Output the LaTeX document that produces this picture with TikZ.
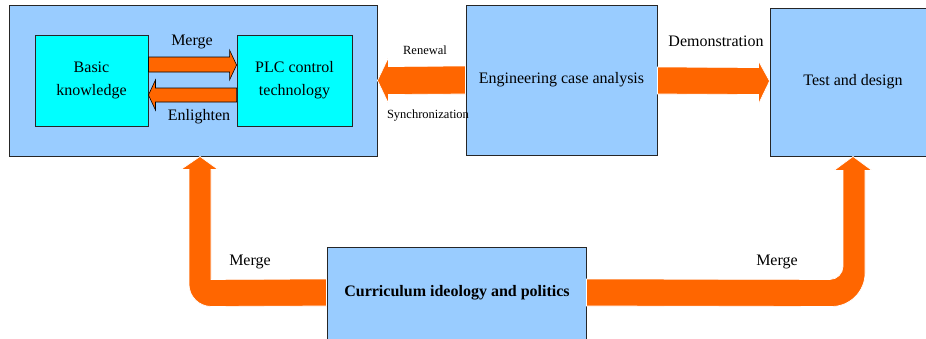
\documentclass[tikz,border=0pt]{standalone}
\usepackage{fontspec}
\setmainfont{Liberation Serif}
\usetikzlibrary{calc}
\definecolor{boxblue}{HTML}{99CCFF}
\definecolor{boxcyan}{HTML}{00FFFF}
\definecolor{arrorange}{HTML}{FF6600}
\tikzset{
  bluebox/.style={draw=black!85, line width=0.9pt, fill=boxblue, inner sep=0pt, align=center, font=\fontsize{16}{23}\selectfont},
  cyanbox/.style={draw=black!85, line width=0.9pt, fill=boxcyan, inner sep=0pt, align=center, font=\fontsize{16}{23}\selectfont},
  lbl/.style={inner sep=0pt, font=\fontsize{16}{19}\selectfont},
  smalllbl/.style={inner sep=0pt, font=\fontsize{12.5}{15}\selectfont},
  innerarrow/.style={fill=arrorange, draw=black, line width=0.6pt, line join=miter},
  outerarrow/.style={fill=arrorange, draw=white, line width=0.7pt, line join=miter},
}
\begin{document}
\begin{tikzpicture}[x=1pt, y=-1pt]
\clip (0,0) rectangle (926,338);
\fill[white] (0,0) rectangle (926,338);

% boxes
\node[bluebox, minimum width=368pt, minimum height=151pt] (outer) at (193,80.5) {};
\node[cyanbox, minimum width=113pt, minimum height=91pt] (basic) at (91.5,80.5) {Basic\\knowledge};
\node[cyanbox, minimum width=115pt, minimum height=91pt] (plc) at (294.5,80.5) {PLC control\\technology};
\node[bluebox, minimum width=191pt, minimum height=150pt] (eng) at (561.5,80) {Engineering case analysis};
\node[bluebox, minimum width=166pt, minimum height=148pt] (test) at (853,82) {Test and design};
\node[bluebox, minimum width=259pt, minimum height=110pt, font=\fontsize{16}{19}\selectfont\bfseries] (cur) at (456.5,302) {};
\node[inner sep=0pt, font=\fontsize{16}{19}\selectfont\bfseries] (curtext) at (457,293) {Curriculum ideology and politics};

% inner arrows
\draw[innerarrow]
  ($(basic.east)+(0,-23.5)$) -- ($(plc.west)+(-7,-23.5)$) -- ($(plc.west)+(-7,-30.5)$)
  -- ($(plc.west)+(0,-15.5)$) -- ($(plc.west)+(-7,-0.5)$) -- ($(plc.west)+(-7,-8.5)$)
  -- ($(basic.east)+(0,-8.5)$) -- cycle;
\draw[innerarrow]
  ($(plc.west)+(0,7.5)$) -- ($(basic.east)+(7,7.5)$) -- ($(basic.east)+(7,-0.5)$)
  -- ($(basic.east)+(0,14.5)$) -- ($(basic.east)+(7,29.5)$) -- ($(basic.east)+(7,21.5)$)
  -- ($(plc.west)+(0,21.5)$) -- cycle;

% Renewal arrow (eng -> outer)
\draw[outerarrow]
  ($(eng.west)+(0,-14)$) -- ($(outer.east)+(11,-14)$) -- ($(outer.east)+(11,-23)$)
  -- ($(outer.east)+(0,0)$) -- ($(outer.east)+(11,23)$) -- ($(outer.east)+(11,14)$)
  -- ($(eng.west)+(0,14)$) -- cycle;

% Demonstration arrow (eng -> test)
\draw[outerarrow]
  ($(eng.east)+(0,-13)$) -- ($(test.west)+(-11,-14.5)$) -- ($(test.west)+(-11,-21)$)
  -- ($(test.west)+(0,-1)$) -- ($(test.west)+(-11,22)$) -- ($(test.west)+(-11,12.5)$)
  -- ($(eng.east)+(0,14)$) -- cycle;

% bent arrow left (cur -> outer)
\coordinate (lt) at ($(outer.south)+(7,0)$);
\draw[outerarrow]
  ($(cur.west)+(0,-23)$) -- ($(lt)+(11,123)$) -- ($(lt)+(11,13)$) -- ($(lt)+(18,13)$)
  -- (lt) -- ($(lt)+(-19,13)$) -- ($(lt)+(-11,13)$) -- ($(lt)+(-11,128)$)
  .. controls ($(lt)+(-11,140)$) and ($(lt)+(-1,150)$) .. ($(lt)+(11,150)$)
  -- ($(cur.west)+(0,4)$) -- cycle;

% bent arrow right (cur -> test)
\coordinate (rt) at ($(test.south)+(0,0)$);
\draw[outerarrow]
  ($(cur.east)+(0,-23)$) -- ($(rt)+(-23,123)$)
  .. controls ($(rt)+(-16,123)$) and ($(rt)+(-10,117)$) .. ($(rt)+(-10,110)$)
  -- ($(rt)+(-10,14)$) -- ($(rt)+(-19,14)$) -- (rt) -- ($(rt)+(19,14)$) -- ($(rt)+(12,14)$)
  -- ($(rt)+(12,117)$)
  .. controls ($(rt)+(12,135)$) and ($(rt)+(-3,150)$) .. ($(rt)+(-21,150)$)
  -- ($(cur.east)+(0,4)$) -- cycle;

% labels
\node[lbl] (lmerge1) at (192,42) {Merge};
\node[lbl] (lenl) at (199,117) {Enlighten};
\node[smalllbl] (lren) at (425,50) {Renewal};
\node[smalllbl] (lsync) at (428,116) {Synchronization};
\node[lbl] (ldemo) at (716,41) {Demonstration};
\node[lbl] (lmerge2) at (250,262) {Merge};
\node[lbl] (lmerge3) at (777,262) {Merge};
\end{tikzpicture}
\end{document}
